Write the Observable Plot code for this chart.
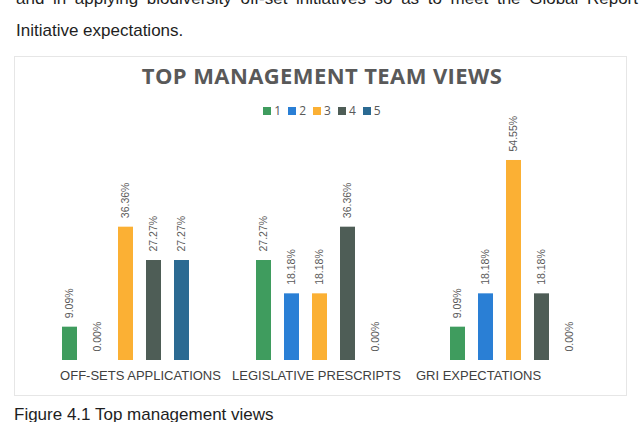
<!DOCTYPE html>
<html>
<head>
<meta charset="utf-8">
<script src="https://cdn.jsdelivr.net/npm/d3@7"></script>
<script src="https://cdn.jsdelivr.net/npm/@observablehq/plot@0.6"></script>
<style>
  html, body { margin: 0; padding: 0; background: #fff; }
  body { width: 640px; height: 422px; overflow: hidden; position: relative; }
  .para { position: absolute; font-family: "Liberation Sans", Arial, sans-serif; font-size: 17px; line-height: 17px; color: #1e1e1e; }
  #frame { position: absolute; left: 14px; top: 56px; width: 611px; height: 338px; border: 1px solid #e6e6e6; }
  #title { position: absolute; left: 2px; width: 640px; top: 64px; text-align: center; font-family: "Open Sans", sans-serif; font-weight: 700; font-size: 22px; line-height: 22px; letter-spacing: 0.4px; color: #595959; }
  #legend { position: absolute; left: 2px; width: 640px; top: 104px; display: flex; justify-content: center; gap: 7px; font-family: "Open Sans", sans-serif; font-size: 12px; line-height: 14px; color: #595959; z-index: 2; }
  #legend .item { display: flex; align-items: center; gap: 3px; }
  #legend .sw { width: 8px; height: 8px; display: inline-block; }
  #chart { position: absolute; left: 14px; top: 100px; }
</style>
</head>
<body>
<div class="para" style="left:16px; top:-10px; width:622px; text-align:justify; text-align-last:justify;">and in applying biodiversity off-set initiatives so as to meet the Global Report</div>
<div class="para" style="left:16px; top:22px;">Initiative expectations.</div>
<div id="frame"></div>
<div id="title">TOP MANAGEMENT TEAM VIEWS</div>
<div id="legend"></div>
<div id="chart"></div>
<div class="para" style="left:14px; top:406px;">Figure 4.1 Top management views</div>
<script>
const categories = ["OFF-SETS APPLICATIONS", "LEGISLATIVE PRESCRIPTS", "GRI EXPECTATIONS"];
const series = ["1", "2", "3", "4", "5"];
const values1 = [9.09, 27.27, 9.09];
const values2 = [0.00, 18.18, 18.18];
const values3 = [36.36, 18.18, 54.55];
const values4 = [27.27, 36.36, 18.18];
const values5 = [27.27, 0.00, 0.00];
const colors = ["#3f9c5e", "#2a7fd5", "#fbb034", "#4e5d56", "#2b6a92"];
// horizontal offsets of the category labels as seen in the reference
const labelShift = [15, -3, -35];

const allValues = [values1, values2, values3, values4, values5];
const data = [];
categories.forEach((cat, i) => {
  series.forEach((s, j) => {
    data.push({cat, series: s, value: allValues[j][i]});
  });
});

const legend = document.getElementById("legend");
series.forEach((s, j) => {
  const item = document.createElement("div");
  item.className = "item";
  const sw = document.createElement("span");
  sw.className = "sw";
  sw.style.background = colors[j];
  const lab = document.createElement("span");
  lab.textContent = s;
  item.appendChild(sw);
  item.appendChild(lab);
  legend.appendChild(item);
});

const chart = Plot.plot({
  width: 612,
  height: 288,
  marginLeft: 14,
  marginRight: 16,
  marginTop: 40,
  marginBottom: 28,
  style: {background: "transparent", overflow: "visible", fontFamily: "Liberation Sans, Arial, sans-serif", color: "#404040"},
  fx: {domain: categories, padding: 0, label: null, axis: null},
  x: {domain: series, paddingInner: 0.47, paddingOuter: 1.14, axis: null},
  y: {domain: [0, 60], axis: null},
  color: {domain: series, range: colors},
  marks: [
    ...categories.map((c, i) => Plot.axisFx({
      ticks: [c], anchor: "bottom", tickSize: 0, tickPadding: 10,
      label: null, fontSize: 13, dx: labelShift[i], fill: "#404040"
    })),
    Plot.barY(data, {fx: "cat", x: "series", y: "value", fill: "series"}),
    Plot.text(data, {
      fx: "cat", x: "series", y: "value",
      text: d => d.value.toFixed(2) + "%",
      rotate: -90, textAnchor: "start", dy: -9,
      fontSize: 10.5, fill: "#595959"
    })
  ]
});
document.getElementById("chart").appendChild(chart);
</script>
</body>
</html>
